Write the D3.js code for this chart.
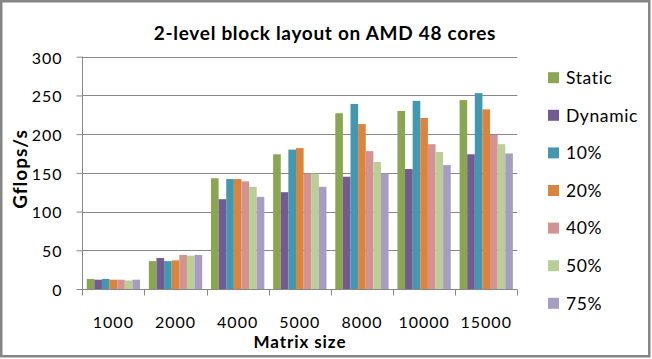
<!DOCTYPE html>
<html>
<head>
<meta charset="utf-8">
<script src="https://cdn.jsdelivr.net/npm/d3@7"></script>
<style>
  body { margin: 0; background: #fff; }
  text { font-family: Lato, "Open Sans", sans-serif; fill: #000; }
</style>
</head>
<body>
<div id="chart"></div>
<script>
// chart data
const categories = ["1000", "2000", "4000", "5000", "8000", "10000", "15000"];
const seriesNames = ["Static", "Dynamic", "10%", "20%", "40%", "50%", "75%"];
const staticVals  = [13, 36, 143, 174, 227, 230, 244];
const dynamicVals = [12, 40, 116, 125, 145, 155, 174];
const pct10Vals   = [13, 36, 142, 180, 239, 243, 253];
const pct20Vals   = [12, 37, 142, 182, 213, 221, 232];
const pct40Vals   = [12, 44, 139, 149, 178, 187, 199];
const pct50Vals   = [11, 43, 132, 149, 164, 177, 187];
const pct75Vals   = [12, 44, 119, 132, 149, 160, 175];
const yTicks = [0, 50, 100, 150, 200, 250, 300];
const colors = ["#8ba650", "#735a91", "#4398b0", "#db843d", "#d49290", "#bacf98", "#a89cc0"];

const allVals = [staticVals, dynamicVals, pct10Vals, pct20Vals, pct40Vals, pct50Vals, pct75Vals];

const width = 652, height = 359;
const plotL = 82.3, plotR = 517.3, plotT = 56.7, plotB = 289;

const svg = d3.select("#chart")
  .append("svg")
  .attr("width", width)
  .attr("height", height);

svg.append("rect")
  .attr("x", 1.25).attr("y", 1.25)
  .attr("width", 648).attr("height", 355)
  .attr("fill", "#fff")
  .attr("stroke", "#868686")
  .attr("stroke-width", 2.5);

const x = d3.scaleBand().domain(categories).range([plotL, plotR]);
const x1 = d3.scaleBand().domain(seriesNames).range([0, x.bandwidth()]).paddingOuter(0.58);
const y = d3.scaleLinear().domain([0, 300]).range([plotB, plotT]);

// gridlines
svg.append("g")
  .selectAll("line")
  .data(yTicks.slice(1))
  .join("line")
  .attr("x1", plotL).attr("x2", plotR)
  .attr("y1", d => Math.round(y(d)) + 0.5)
  .attr("y2", d => Math.round(y(d)) + 0.5)
  .attr("stroke", "#878787");

// bars
const rows = [];
allVals.forEach((vals, s) => {
  vals.forEach((v, c) => rows.push({ cat: categories[c], name: seriesNames[s], value: v, s: s }));
});

svg.append("g")
  .selectAll("rect")
  .data(rows)
  .join("rect")
  .attr("x", d => x(d.cat) + x1(d.name))
  .attr("width", x1.bandwidth())
  .attr("y", d => y(d.value))
  .attr("height", d => y(0) - y(d.value))
  .attr("fill", d => colors[d.s]);

// y axis
const yAxis = svg.append("g")
  .attr("transform", `translate(${Math.round(plotL) + 0.5},0)`)
  .call(d3.axisLeft(y).tickValues(yTicks).tickSize(6).tickPadding(14).tickFormat(d3.format("d")));
yAxis.select(".domain").attr("stroke", "#878787").attr("d", `M0,${plotT}V${plotB}`);
yAxis.selectAll(".tick line").attr("stroke", "#878787");
yAxis.selectAll(".tick text")
  .style("font-size", "16px").style("letter-spacing", "1px")
  .attr("fill", "#000").attr("dy", "0.4em");

// x axis
const xAxis = svg.append("g")
  .attr("transform", `translate(0,${Math.round(plotB) + 0.5})`)
  .call(d3.axisBottom(x).tickSize(0).tickPadding(0));
xAxis.select(".domain").attr("stroke", "#878787").attr("d", `M${plotL},0H${plotR}`);
xAxis.selectAll(".tick text")
  .style("font-size", "16px").style("letter-spacing", "1px")
  .attr("fill", "#000").attr("y", 38).attr("dy", 0);
xAxis.append("g")
  .selectAll("line")
  .data(categories.map(c => x(c)).concat([plotR]))
  .join("line")
  .attr("x1", d => Math.round(d) + 0.5).attr("x2", d => Math.round(d) + 0.5)
  .attr("y1", 0).attr("y2", 6)
  .attr("stroke", "#878787");

// title
svg.append("text")
  .attr("x", 325).attr("y", 39.5)
  .attr("text-anchor", "middle")
  .style("font-size", "19px").style("font-weight", "bold").style("letter-spacing", "0.7px")
  .text("2-level block layout on AMD 48 cores");

// axis titles
svg.append("text")
  .attr("x", 300).attr("y", 348)
  .attr("text-anchor", "middle")
  .style("font-size", "17px").style("font-weight", "bold").style("letter-spacing", "0.9px")
  .text("Matrix size");

svg.append("text")
  .attr("transform", "translate(27,169) rotate(-90)")
  .attr("text-anchor", "middle")
  .style("font-size", "19px").style("font-weight", "bold").style("letter-spacing", "1px")
  .text("Gflops/s");

// legend
const legend = svg.append("g")
  .selectAll("g")
  .data(seriesNames)
  .join("g")
  .attr("transform", (d, i) => `translate(548,${77.7 + i * 37.6})`);

legend.append("rect")
  .attr("x", 0).attr("y", -5.5)
  .attr("width", 11).attr("height", 11)
  .attr("fill", (d, i) => colors[i]);

legend.append("text")
  .attr("x", 18).attr("y", 0)
  .attr("dy", "0.36em")
  .style("font-size", "17.5px").style("letter-spacing", "0.6px")
  .text(d => d);
</script>
</body>
</html>
